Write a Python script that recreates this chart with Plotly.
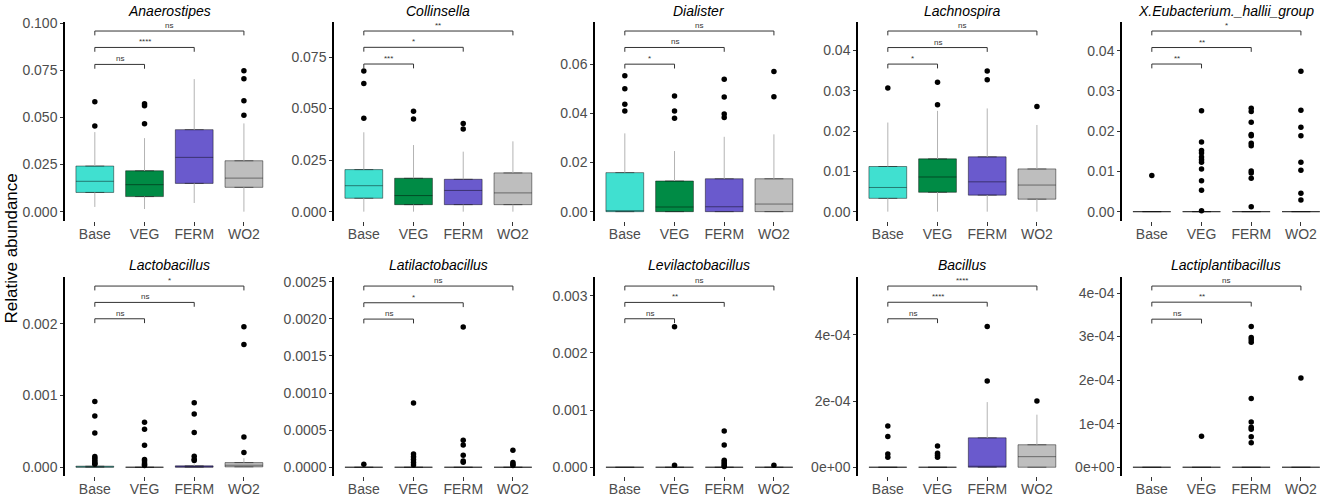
import plotly.graph_objects as go

groups = ["Base", "VEG", "FERM", "WO2"]
group_colors = ["#40E0D0", "#008B45", "#6A5ACD", "#BEBEBE"]

taxa = ["Anaerostipes", "Collinsella", "Dialister", "Lachnospira",
        "X.Eubacterium._hallii_group", "Lactobacillus", "Latilactobacillus",
        "Levilactobacillus", "Bacillus", "Lactiplantibacillus"]

# box statistics per taxon, one value per group (Base, VEG, FERM, WO2)
q1 = [
    [0.0102, 0.0080, 0.0150, 0.0129],
    [0.0065, 0.0034, 0.0034, 0.0034],
    [0.0, 0.0, 0.0, 0.0],
    [0.0033, 0.0048, 0.0041, 0.0031],
    [0.0, 0.0, 0.0, 0.0],
    [0.0, 0.0, 0.0, 0.000005],
    [0.0, 0.0, 0.0, 0.0],
    [0.0, 0.0, 0.0, 0.0],
    [0.0, 0.0, 0.0, 0.0],
    [0.0, 0.0, 0.0, 0.0],
]
median = [
    [0.0161, 0.0143, 0.0288, 0.0178],
    [0.0126, 0.0078, 0.0103, 0.0091],
    [0.0004, 0.0019, 0.0020, 0.0031],
    [0.0060, 0.0086, 0.0074, 0.0066],
    [0.0, 0.0, 0.0, 0.0],
    [0.000004, 0.0, 0.000005, 0.000028],
    [0.0, 0.0, 0.0, 0.0],
    [0.0, 0.0, 0.0, 0.0],
    [0.0, 0.0, 0.0, 0.000032],
    [0.0, 0.0, 0.0, 0.0],
]
q3 = [
    [0.0242, 0.0217, 0.0435, 0.0270],
    [0.0204, 0.0162, 0.0157, 0.0188],
    [0.0159, 0.0125, 0.0134, 0.0134],
    [0.0112, 0.0131, 0.0136, 0.0106],
    [0.0, 0.0, 0.0, 0.0],
    [0.000015, 0.0, 0.00002, 0.000065],
    [0.0, 0.0, 0.0, 0.0],
    [0.0, 0.0, 0.0, 0.0],
    [0.0, 0.0, 0.000089, 0.000068],
    [0.0, 0.0, 0.0, 0.0],
]
whisker_low = [
    [0.0025, 0.0014, 0.0046, 0.0],
    [0.0, 0.0, 0.0, 0.0],
    [0.0, 0.0, 0.0, 0.0],
    [0.0, 0.0, 0.0, 0.0],
    [0.0, 0.0, 0.0, 0.0],
    [0.0, 0.0, 0.0, 0.0],
    [0.0, 0.0, 0.0, 0.0],
    [0.0, 0.0, 0.0, 0.0],
    [0.0, 0.0, 0.0, 0.0],
    [0.0, 0.0, 0.0, 0.0],
]
whisker_high = [
    [0.0422, 0.0390, 0.0703, 0.0468],
    [0.0385, 0.0323, 0.0291, 0.0341],
    [0.0319, 0.0247, 0.0305, 0.0315],
    [0.0221, 0.0250, 0.0256, 0.0215],
    [0.0, 0.0, 0.0, 0.0],
    [0.00003, 0.0, 0.00004, 0.000126],
    [0.0, 0.0, 0.0, 0.0],
    [0.0, 0.0, 0.0, 0.0],
    [0.0, 0.0, 0.000197, 0.000159],
    [0.0, 0.0, 0.0, 0.0],
]
outliers = [
    [[0.0583, 0.0454], [0.0572, 0.0562, 0.0466], [], [0.0747, 0.0705, 0.0588, 0.0511]],
    [[0.0682, 0.0622, 0.0453], [0.0487, 0.0449], [0.0428, 0.0401], []],
    [[0.0554, 0.0501, 0.0438, 0.0410], [0.0471, 0.0410, 0.0381],
     [0.0540, 0.0467, 0.0398, 0.0384], [0.0571, 0.0468]],
    [[0.0307], [0.0321, 0.0265], [0.0349, 0.0327], [0.0261]],
    [[0.0090],
     [0.0251, 0.0173, 0.0152, 0.0146, 0.0136, 0.0129, 0.0123, 0.0106, 0.0077, 0.0053, 0.0002],
     [0.0257, 0.0249, 0.0222, 0.0192, 0.0189, 0.0170, 0.0164, 0.0101, 0.0096, 0.0083, 0.0012],
     [0.0349, 0.0252, 0.0210, 0.0189, 0.0123, 0.0103, 0.0046, 0.0029]],
    [[0.000916, 0.000716, 0.000479, 0.000149, 0.000126, 0.000098, 0.000074, 0.000056, 0.000042],
     [0.000628, 0.00053, 0.000307, 0.000107, 0.000088, 0.00006, 0.000037, 0.000023],
     [0.000898, 0.000744, 0.000484, 0.000153, 0.000112, 0.000093],
     [0.001958, 0.001712, 0.000423, 0.000205]],
    [[0.00004],
     [0.000866, 0.00018, 0.00014, 0.000103, 0.000063, 0.000031],
     [0.00189, 0.000364, 0.0003, 0.000162, 0.000085, 0.000067],
     [0.000229, 0.000063, 0.00004, 0.000022]],
    [[], [0.002457, 0.000035],
     [0.000636, 0.000391, 0.000123, 0.000093, 0.000064, 0.000035, 0.000012],
     [0.000035]],
    [[0.000125, 0.000093, 0.00004, 0.00003], [0.000064, 0.000042, 0.000036, 0.00003],
     [0.000426, 0.000261], [0.0002]],
    [[], [0.000071],
     [0.000323, 0.000298, 0.000293, 0.000287, 0.000158, 0.000104, 0.000092, 0.000087, 0.00007, 0.000056],
     [0.000205]],
]

# significance brackets: Base vs VEG, Base vs FERM, Base vs WO2
bracket_y = [
    [0.0781, 0.0871, 0.0958],
    [0.0716, 0.0797, 0.0876],
    [0.0601, 0.0669, 0.0736],
    [0.0366, 0.0407, 0.0448],
    [0.0367, 0.0408, 0.0449],
    [0.00207, 0.002298, 0.002526],
    [0.001997, 0.002217, 0.002442],
    [0.002597, 0.002883, 0.003169],
    [0.000449, 0.000499, 0.000548],
    [0.00034, 0.000379, 0.000416],
]
bracket_labels = [
    ["ns", "****", "ns"],
    ["***", "*", "**"],
    ["*", "ns", "ns"],
    ["*", "ns", "ns"],
    ["**", "**", "*"],
    ["ns", "ns", "*"],
    ["ns", "*", "ns"],
    ["ns", "**", "ns"],
    ["ns", "****", "****"],
    ["ns", "**", "ns"],
]

tick_vals = [
    [0, 0.025, 0.05, 0.075, 0.1],
    [0, 0.025, 0.05, 0.075],
    [0, 0.02, 0.04, 0.06],
    [0, 0.01, 0.02, 0.03, 0.04],
    [0, 0.01, 0.02, 0.03, 0.04],
    [0, 0.001, 0.002],
    [0, 0.0005, 0.001, 0.0015, 0.002, 0.0025],
    [0, 0.001, 0.002, 0.003],
    [0, 0.0002, 0.0004],
    [0, 0.0001, 0.0002, 0.0003, 0.0004],
]
tick_text = [
    ["0.000", "0.025", "0.050", "0.075", "0.100"],
    ["0.000", "0.025", "0.050", "0.075"],
    ["0.00", "0.02", "0.04", "0.06"],
    ["0.00", "0.01", "0.02", "0.03", "0.04"],
    ["0.00", "0.01", "0.02", "0.03", "0.04"],
    ["0.000", "0.001", "0.002"],
    ["0.0000", "0.0005", "0.0010", "0.0015", "0.0020", "0.0025"],
    ["0.000", "0.001", "0.002", "0.003"],
    ["0e+00", "2e-04", "4e-04"],
    ["0e+00", "1e-04", "2e-04", "3e-04", "4e-04"],
]

W, H = 1325, 498
FONT = "Liberation Sans, Arial, sans-serif"
panel_left = [65, 334, 595, 858, 1122]   # px of each panel's y axis line
unit_px = 49.7                             # px per category
row_px = [(22, 220.7), (277, 476.3)]       # top/bottom px of each row

fig = go.Figure()
layout = dict(
    width=W, height=H, margin=dict(l=0, r=0, t=0, b=0),
    paper_bgcolor="white", plot_bgcolor="white", showlegend=False,
    font=dict(family=FONT, color="#4d4d4d"),
    boxmode="overlay",
)
annotations = []

for p, name in enumerate(taxa):
    row, col = divmod(p, 5)
    ax = "" if p == 0 else str(p + 1)
    xa, ya = "x" + ax, "y" + ax

    left = panel_left[col]
    right = min(left + 4.2 * unit_px, W)
    top_px, bot_px = row_px[row]
    top = max(bracket_y[p])
    drop = 0.024 * top

    for g, grp in enumerate(groups):
        fig.add_trace(go.Scatter(
            x=[grp, grp, None, grp, grp],
            y=[whisker_low[p][g], q1[p][g], None, q3[p][g], whisker_high[p][g]],
            mode="lines", line=dict(color="#b3b3b3", width=1),
            hoverinfo="skip", xaxis=xa, yaxis=ya))
        fig.add_trace(go.Box(
            x=[grp], q1=[q1[p][g]], median=[median[p][g]], q3=[q3[p][g]],
            lowerfence=[q1[p][g]], upperfence=[q3[p][g]],
            orientation="v", width=0.76, boxpoints=False,
            fillcolor=group_colors[g],
            line=dict(color="rgba(0,0,0,0.45)", width=1),
            hoverinfo="skip", xaxis=xa, yaxis=ya))
        if outliers[p][g]:
            fig.add_trace(go.Scatter(
                x=[grp] * len(outliers[p][g]), y=outliers[p][g],
                mode="markers", marker=dict(color="black", size=5.5),
                hoverinfo="skip", xaxis=xa, yaxis=ya))

    for k, (h, lab) in enumerate(zip(bracket_y[p], bracket_labels[p])):
        other = groups[k + 1]
        fig.add_trace(go.Scatter(
            x=[groups[0], groups[0], other, other],
            y=[h - drop, h, h, h - drop],
            mode="lines", line=dict(color="#333333", width=1),
            hoverinfo="skip", xaxis=xa, yaxis=ya))
        annotations.append(dict(
            x=(k + 1) / 2, y=h, xref=xa, yref=ya, text=lab,
            showarrow=False, yanchor="bottom", yshift=-1,
            font=dict(size=8, color="#333333", family=FONT)))

    layout["xaxis" + ax] = dict(
        domain=[left / W, right / W], anchor=ya, type="category",
        categoryorder="array", categoryarray=groups,
        range=[-0.6, -0.6 + (right - left) / unit_px],
        showline=False, showgrid=False, zeroline=False,
        ticks="outside", ticklen=4, tickwidth=1, tickcolor="#333333",
        ticklabelstandoff=-4,
        tickfont=dict(size=14, color="#4d4d4d"), automargin=False)
    layout["yaxis" + ax] = dict(
        domain=[1 - bot_px / H, 1 - top_px / H], anchor=xa,
        range=[-0.05 * top, 1.05 * top], autorange=False,
        tickvals=tick_vals[p], ticktext=tick_text[p],
        showline=True, linecolor="black", linewidth=1.5,
        showgrid=False, zeroline=False,
        ticks="outside", ticklen=3, tickwidth=1, tickcolor="#333333",
        tickfont=dict(size=14, color="#4d4d4d"), automargin=False)

    title_y = 11 if row == 0 else 265
    annotations.append(dict(
        x=(left + left + 4.2 * unit_px) / 2 / W, y=1 - title_y / H,
        xref="paper", yref="paper", text=name, showarrow=False,
        xanchor="center", yanchor="middle",
        font=dict(size=14, color="black", family=FONT, style="italic")))

annotations.append(dict(
    x=10.5 / W, y=0.5, xref="paper", yref="paper", text="Relative abundance",
    textangle=-90, showarrow=False, xanchor="center", yanchor="middle",
    font=dict(size=17, color="black", family=FONT)))

layout["annotations"] = annotations
fig.update_layout(**layout)
# drop the browser's default page margin so the figure sits at the window corner
fig.write_html("out.html", config={"displayModeBar": False},
               post_script="document.body.style.margin='0';document.body.style.overflow='hidden';")
